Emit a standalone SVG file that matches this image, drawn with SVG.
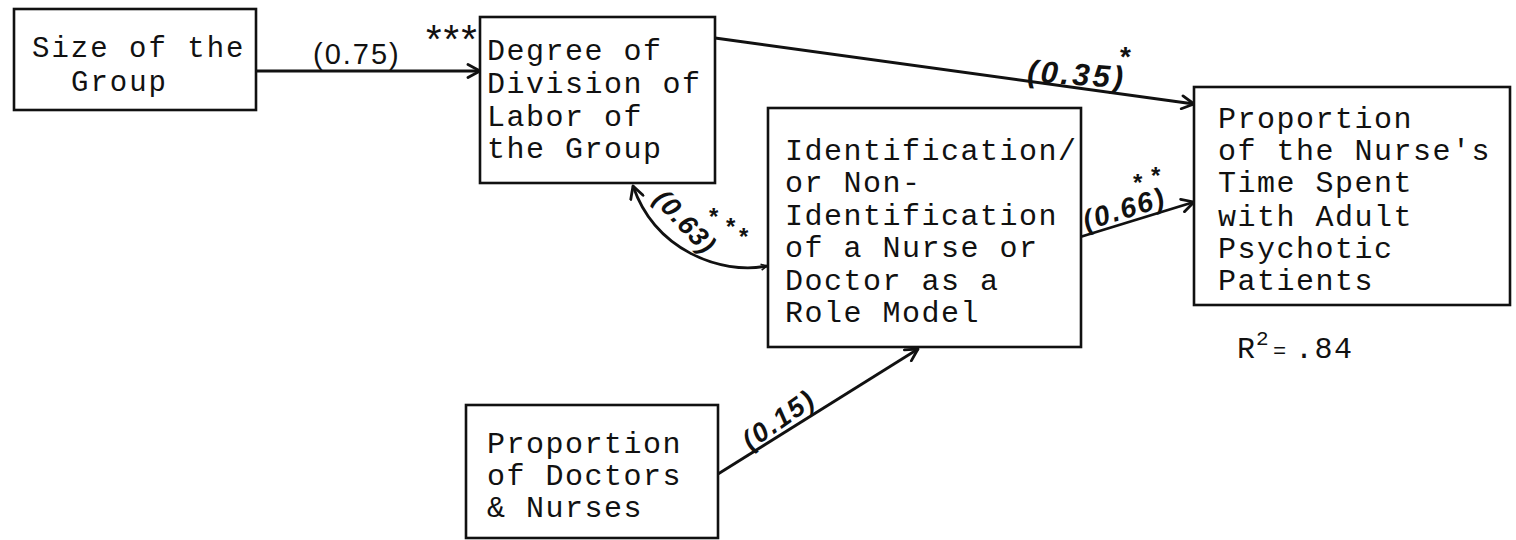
<svg xmlns="http://www.w3.org/2000/svg" width="1516" height="540" viewBox="0 0 1516 540">
<style>
.box{fill:#fff;stroke:#111;stroke-width:2.6}
.t{font-family:"Liberation Mono","Courier New",monospace;font-size:30px;letter-spacing:1.5px;fill:#111}
.c{fill:none;stroke:#111;stroke-width:2.8}
.h{font-family:"Liberation Sans",Arial,sans-serif;font-style:italic;font-weight:bold;fill:#111}
.st{font-family:"Liberation Sans",Arial,sans-serif;font-weight:bold;fill:#111}
</style>
<defs>
<marker id="arr" viewBox="0 0 16 16" markerWidth="16" markerHeight="16" refX="14" refY="8" orient="auto" markerUnits="userSpaceOnUse">
<path d="M2,1.5 L14,8 L2,14.5" fill="none" stroke="#111" stroke-width="2.8" stroke-linecap="round" stroke-linejoin="round"/>
</marker>
<marker id="arrs" viewBox="0 0 16 16" markerWidth="8" markerHeight="8" refX="14" refY="8" orient="auto-start-reverse" markerUnits="userSpaceOnUse">
<path d="M2,2 L14,8 L2,14" fill="none" stroke="#111" stroke-width="3"/>
</marker>
</defs>
<rect width="1516" height="540" fill="#fff"/>

<g id="connectors">
<path class="c" d="M256,71 L480,71" marker-end="url(#arr)"/>
<path class="c" d="M715,38 L1194,104" marker-end="url(#arr)"/>
<path class="c" d="M1080,237 L1194,202" marker-end="url(#arr)"/>
<path class="c" d="M718,474 L918,349" marker-end="url(#arr)"/>
<path class="c" d="M767,266 C720,275 655,250 633,186" marker-end="url(#arr)" marker-start="url(#arrs)"/>
<text class="st" x="313" y="64" font-size="29" letter-spacing="2" style="font-weight:normal">(0.75)</text>
<text class="h" font-size="31" letter-spacing="3" text-anchor="middle" transform="translate(1076,85) rotate(4)">(0.35)</text>
<text class="st" x="1120" y="66" font-size="28">*</text>
<text class="h" font-size="28" letter-spacing="2" text-anchor="middle" transform="translate(1127,218) rotate(-17)">(0.66)</text>
<text class="st" x="1133" y="191" font-size="24">*</text>
<text class="st" x="1151" y="184" font-size="24">*</text>
<text class="h" font-size="27" letter-spacing="2" text-anchor="middle" transform="translate(784,427) rotate(-35)">(0.15)</text>
<text class="h" font-size="27" letter-spacing="1" text-anchor="middle" transform="translate(685,222) rotate(47)" y="9">(0.63)</text>
<text class="st" x="709" y="225" font-size="24">*</text>
<text class="st" x="726" y="235" font-size="24">*</text>
<text class="st" x="739" y="245" font-size="24">*</text>
</g>

<g id="n1">
<rect class="box" x="14" y="9" width="242" height="101"/>
<text class="t" x="32" y="57" style="font-size:29px;letter-spacing:2px">Size of the</text>
<text class="t" x="71" y="91" style="font-size:29px;letter-spacing:2px">Group</text>
</g>

<g id="n2">
<rect class="box" x="480" y="17" width="235" height="166"/>
<text class="st" x="426" y="53" font-size="40" letter-spacing="2" style="font-weight:normal">***</text>
<text class="t" x="487" y="60">Degree of</text>
<text class="t" x="487" y="93">Division of</text>
<text class="t" x="487" y="126">Labor of</text>
<text class="t" x="487" y="158">the Group</text>
</g>

<g id="n3">
<rect class="box" x="768" y="108" width="313" height="239"/>
<text class="t" x="785" y="160">Identification/</text>
<text class="t" x="785" y="192">or Non-</text>
<text class="t" x="785" y="225">Identification</text>
<text class="t" x="785" y="257">of a Nurse or</text>
<text class="t" x="785" y="290">Doctor as a</text>
<text class="t" x="785" y="322">Role Model</text>
</g>

<g id="n4">
<rect class="box" x="1194" y="87" width="316" height="218"/>
<text class="t" x="1218" y="128">Proportion</text>
<text class="t" x="1218" y="160">of the Nurse's</text>
<text class="t" x="1218" y="192">Time Spent</text>
<text class="t" x="1218" y="226">with Adult</text>
<text class="t" x="1218" y="258">Psychotic</text>
<text class="t" x="1218" y="290">Patients</text>
</g>

<g id="r2">
<text class="t" x="1237" y="358">R</text>
<text class="t" x="1256" y="345" style="font-size:21px;letter-spacing:0">2</text>
<text class="t" x="1273" y="358" style="font-size:22px;letter-spacing:0">=</text>
<text class="t" x="1295" y="358">.84</text>
</g>

<g id="n5">
<rect class="box" x="466" y="405" width="252" height="133"/>
<text class="t" x="487" y="453">Proportion</text>
<text class="t" x="487" y="485">of Doctors</text>
<text class="t" x="487" y="517">&amp; Nurses</text>
</g>
</svg>
